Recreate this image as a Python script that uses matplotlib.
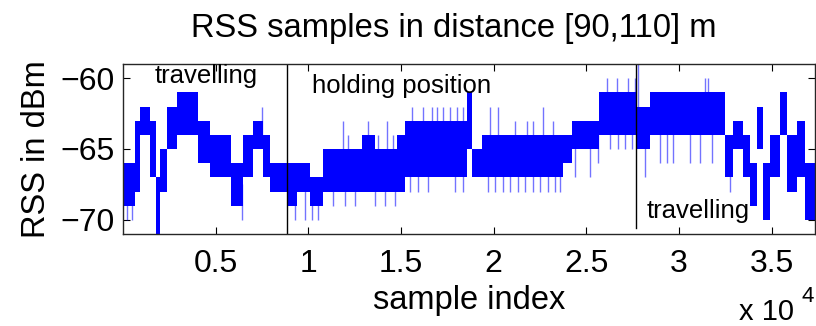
import numpy as np
import matplotlib.pyplot as plt

plt.rcParams['font.family'] = ['Liberation Sans', 'DejaVu Sans']

# RSS level band (dBm): each block starts at seg_start and holds until the next one
seg_start = [0, 650, 900, 1450, 1800, 2000, 2400, 2900, 4050, 4700, 5800, 6450,
             7000, 7550, 7950, 8850, 9400, 10100, 10800, 11550, 12900, 13600,
             14800, 15200, 18550, 18850, 19350, 20350, 23750, 24200, 25700,
             27750, 28450, 28850, 32450, 32900, 33450, 33800, 34200, 34500,
             34900, 35450, 35800, 36350, 36800]
seg_hi = [-66, -63, -62, -63, -67, -65, -62, -61, -63, -64, -66, -64,
          -63, -64, -66, -66, -66, -67, -65, -65, -64, -65,
          -64, -63, -61, -65, -64, -64, -64, -63, -61,
          -62, -61, -61, -64, -63, -64, -66, -62, -66,
          -64, -61, -64, -63, -66]
seg_lo = [-69, -68, -64, -67, -71, -68, -65, -64, -66, -67, -69, -67,
          -65, -67, -68, -69, -68, -69, -68, -68, -68, -68,
          -68, -67, -65, -67, -67, -67, -66, -65, -64,
          -65, -64, -64, -67, -65, -67, -69, -65, -70,
          -67, -64, -68, -67, -70]
last_sample = 37330

# isolated single samples sticking out of the band
spike_x = [216, 485, 6419, 7500, 9278, 9817, 10195, 10519, 11327, 11867, 11975,
           12137, 12514, 13215, 13593, 13755, 14132, 14240, 14564, 14672,
           15481, 15589, 15912, 16182, 16452, 16667, 16937, 17261, 17639,
           17908, 18016, 18340, 18340, 19688, 19796, 20066, 20227, 20497,
           20875, 21144, 21306, 21684, 21792, 22115, 22115, 22493, 22655,
           22925, 23194, 23302, 23572, 24381, 25190, 25622, 26107, 26269,
           26646, 26700, 27078, 27240, 27456, 27618, 27780, 28157, 28966,
           29344, 29668, 30585, 31124, 31393, 31555, 31771, 32741]
spike_y = [-70, -70, -70, -62, -70, -70, -70, -70, -69, -63, -69,
           -64, -69, -63, -69, -64, -69, -63, -64, -69,
           -68, -62, -68, -62, -68, -62, -62, -62, -62,
           -68, -62, -62, -68, -68, -62, -68, -62, -68,
           -68, -63, -68, -68, -63, -63, -68, -68, -62,
           -68, -63, -68, -68, -67, -67, -66, -60, -65,
           -60, -65, -65, -60, -65, -60, -59, -67, -66,
           -66, -66, -66, -66, -60, -60, -66, -68]

events = [8850, 27700]
xtick_pos = [5000, 10000, 15000, 20000, 25000, 30000, 35000]
xtick_lab = ['0.5', '1', '1.5', '2', '2.5', '3', '3.5']
ytick_pos = [-70, -65, -60]

fig = plt.figure(figsize=(8.16, 3.26), dpi=100)
ax = fig.add_axes([123 / 816, 1 - 234 / 326, 692 / 816, 170 / 326])

xs = seg_start + [last_sample]
hi = seg_hi + [seg_hi[-1]]
lo = seg_lo + [seg_lo[-1]]
ax.fill_between(xs, lo, hi, step='post', color='#0000ff', lw=0)

# spikes start from the middle of the band they leave
idx = np.searchsorted(seg_start, spike_x, side='right') - 1
mid = (np.array(seg_hi)[idx] + np.array(seg_lo)[idx]) / 2.0
ax.vlines(spike_x, mid, spike_y, colors='#0000ff', alpha=0.55, lw=1.0)

ax.axvline(events[0], color='k', lw=1.0)
ax.plot([events[1], events[1]], [-59, -70.6], color='k', lw=1.0)

ax.text(1730, -59.85, 'travelling', fontsize=18.5, va='center')
ax.text(10190, -60.55, 'holding position', fontsize=18.5, va='center')
ax.text(28260, -69.4, 'travelling', fontsize=18.5, va='center')

ax.set_xlim(0, last_sample)
ax.set_ylim(-71, -59)
ax.set_xticks(xtick_pos)
ax.set_xticklabels(xtick_lab)
ax.set_yticks(ytick_pos)
ax.tick_params(direction='in', top=True, right=True, length=5, width=0.8,
               labelsize=23)
ax.tick_params(axis='x', pad=11)
ax.tick_params(axis='y', pad=6)
for s in ax.spines.values():
    s.set_linewidth(1.0)
    s.set_color('#262626')

ax.set_xlabel('sample index', fontsize=23.5, labelpad=4)
ax.set_ylabel('RSS in dBm', fontsize=23.5, labelpad=6)
fig.text(454 / 816, 1 - 37 / 326, 'RSS samples in distance [90,110] m',
         fontsize=23.6, ha='center', va='baseline')
fig.text(739 / 816, 1 - 320 / 326, 'x 10', fontsize=21, va='baseline')
fig.text(801 / 816, 1 - 302 / 326, '4', fontsize=16, va='baseline')

fig.savefig('out.png', dpi=100)
